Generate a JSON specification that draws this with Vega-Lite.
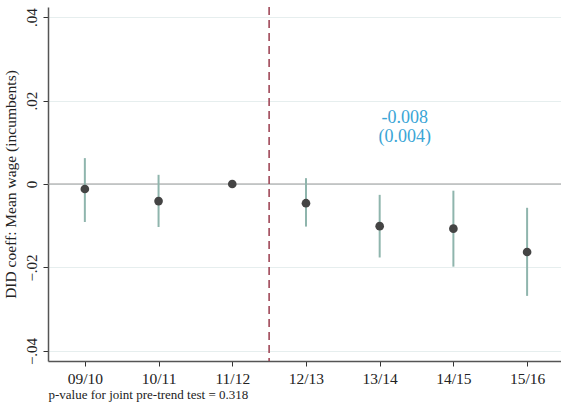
{
  "$schema": "https://vega.github.io/schema/vega-lite/v6.json",
  "width": 513,
  "height": 354,
  "autosize": "none",
  "padding": {"left": 48, "top": 7, "right": 0, "bottom": 46},
  "background": "white",
  "config": {
    "font": "Liberation Serif",
    "view": {"stroke": null}
  },
  "data": {
    "values": [
      {"idx": 1, "year": "09/10", "coef": -0.0012, "lo": -0.0091, "hi": 0.0062},
      {"idx": 2, "year": "10/11", "coef": -0.0041, "lo": -0.0103, "hi": 0.0022},
      {"idx": 3, "year": "11/12", "coef": 0.0, "lo": 0.0, "hi": 0.0},
      {"idx": 4, "year": "12/13", "coef": -0.0046, "lo": -0.0102, "hi": 0.0014},
      {"idx": 5, "year": "13/14", "coef": -0.0101, "lo": -0.0176, "hi": -0.0026},
      {"idx": 6, "year": "14/15", "coef": -0.0107, "lo": -0.0198, "hi": -0.0016},
      {"idx": 7, "year": "15/16", "coef": -0.0163, "lo": -0.0268, "hi": -0.0057}
    ]
  },
  "layer": [
    {
      "data": {"values": [{}]},
      "mark": {"type": "rule", "color": "#999999", "strokeWidth": 1.2},
      "encoding": {"y": {"datum": 0, "type": "quantitative"}}
    },
    {
      "data": {"values": [{}]},
      "mark": {"type": "rule", "color": "#a04858", "strokeWidth": 1.6, "strokeDash": [8, 5]},
      "encoding": {"x": {"datum": 3.5, "type": "quantitative"}}
    },
    {
      "mark": {"type": "rule", "color": "#8fb5ad", "strokeWidth": 2},
      "encoding": {
        "x": {"field": "idx", "type": "quantitative",
          "scale": {"domain": [0.5, 7.46], "nice": false, "zero": false},
          "axis": {
            "values": [1, 2, 3, 4, 5, 6, 7],
            "labelExpr": "['','09/10','10/11','11/12','12/13','13/14','14/15','15/16'][datum.value]",
            "grid": false,
            "domainColor": "#555555",
            "domainWidth": 1.5,
            "tickColor": "#333333",
            "tickSize": 5,
            "labelFontSize": 15.5,
            "labelColor": "#222222",
            "labelPadding": 5,
            "title": "p-value for joint pre-trend test = 0.318",
            "titleFontSize": 13,
            "titleFontWeight": "normal",
            "titleColor": "#222222",
            "titleAnchor": "start",
            "titleAlign": "left",
            "titlePadding": 2
          }
        },
        "y": {"field": "lo", "type": "quantitative",
          "scale": {"domain": [-0.0424, 0.0424], "nice": false},
          "axis": {
            "values": [-0.04, -0.02, 0, 0.02, 0.04],
            "labelExpr": "datum.value == 0 ? '0' : replace(format(datum.value, '.2f'), '0.', '.')",
            "labelAngle": 270,
            "labelAlign": "center",
            "labelBaseline": "bottom",
            "labelFontSize": 15,
            "labelColor": "#222222",
            "labelPadding": 4,
            "grid": true,
            "gridColor": "#e6eeee",
            "gridWidth": 1.2,
            "domainColor": "#555555",
            "domainWidth": 1.5,
            "tickColor": "#333333",
            "tickSize": 5,
            "title": "DID coeff: Mean wage (incumbents)",
            "titleFontSize": 15.5,
            "titleFontWeight": "normal",
            "titleColor": "#222222",
            "titlePadding": 6
          }
        },
        "y2": {"field": "hi"}
      }
    },
    {
      "mark": {"type": "point", "filled": true, "color": "#444444", "size": 75, "opacity": 1},
      "encoding": {
        "x": {"field": "idx", "type": "quantitative"},
        "y": {"field": "coef", "type": "quantitative"}
      }
    },
    {
      "data": {"values": [{"label": "-0.008\n(0.004)"}]},
      "mark": {"type": "text", "font": "Liberation Serif", "fontWeight": "normal", "color": "#3aa5d6", "fontSize": 18, "lineBreak": "\n", "align": "center", "baseline": "middle", "lineHeight": 19},
      "encoding": {
        "x": {"datum": 5.34, "type": "quantitative"},
        "y": {"datum": 0.0157, "type": "quantitative"},
        "text": {"field": "label"}
      }
    }
  ]
}
